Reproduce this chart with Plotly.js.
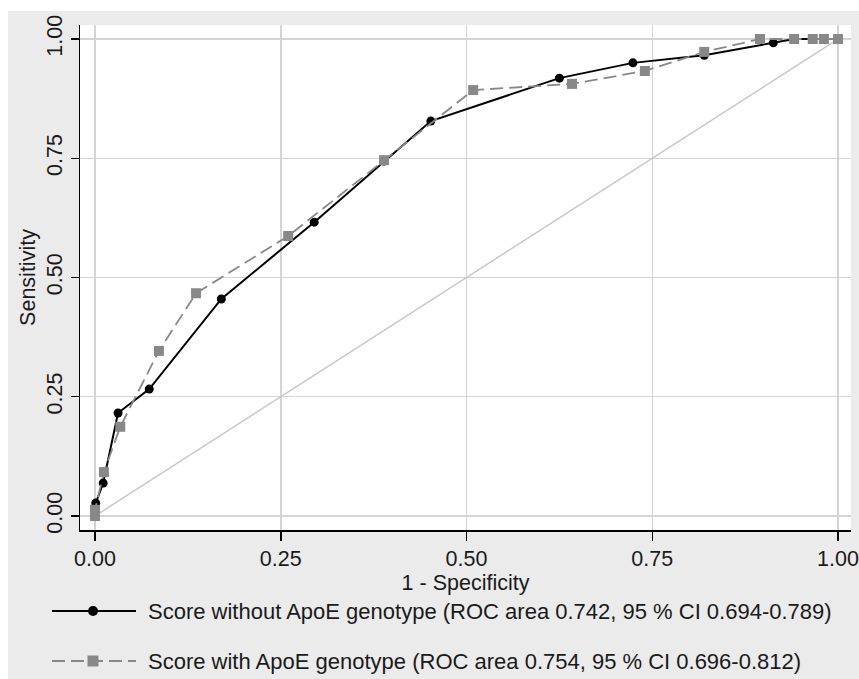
<!DOCTYPE html>
<html>
<head>
<meta charset="utf-8">
<script src="https://cdn.plot.ly/plotly-3.0.1.min.js"></script>
<style>html,body{margin:0;padding:0;background:#fff;}#chart{width:859px;height:679px;}</style>
</head>
<body>
<div id="chart"></div>
<script>
// ---- data ----
var fprWithout = [0, 0.001, 0.011, 0.031, 0.073, 0.170, 0.295, 0.389, 0.452, 0.625, 0.724, 0.820, 0.913, 0.941, 1];
var sensWithout = [0, 0.027, 0.069, 0.216, 0.266, 0.455, 0.616, 0.744, 0.828, 0.918, 0.950, 0.966, 0.992, 1, 1];
var fprWith = [0, 0, 0.012, 0.034, 0.086, 0.136, 0.260, 0.389, 0.509, 0.642, 0.740, 0.820, 0.895, 0.941, 0.966, 0.981, 1];
var sensWith = [0, 0.013, 0.092, 0.187, 0.346, 0.467, 0.587, 0.746, 0.893, 0.906, 0.933, 0.973, 1, 1, 1, 1, 1];
var refLine = [0, 1];
var tickVals = [0, 0.25, 0.5, 0.75, 1];
var tickText = ["0.00", "0.25", "0.50", "0.75", "1.00"];
var nameWithout = "Score without ApoE genotype (ROC area 0.742, 95 % CI 0.694-0.789)";
var nameWith = "Score with ApoE genotype (ROC area 0.754, 95 % CI 0.696-0.812)";

// ---- layout geometry (pixels) ----
var W = 859, H = 679;
var mL = 80, mR = 8, mT = 25, mB = 149;
var pw = W - mL - mR, ph = H - mT - mB;
function px(x) { return (x - mL) / pw; }
function py(y) { return (H - mB - y) / ph; }

var FONT = "Liberation Sans, Arial, Helvetica, sans-serif";
var FS = 21.5;
var LFS = 22;
var black = "#000000", gray = "#888888";

var traces = [
  {x: refLine, y: refLine, mode: "lines", line: {color: "#c8c8c8", width: 1.5}, hoverinfo: "skip", showlegend: false},
  {x: fprWithout, y: sensWithout, mode: "lines+markers", name: nameWithout,
   line: {color: black, width: 2}, marker: {symbol: "circle", size: 9, color: black}, showlegend: false},
  {x: fprWith, y: sensWith, mode: "lines+markers", name: nameWith,
   line: {color: gray, width: 1.8, dash: "13px,6px"}, marker: {symbol: "square", size: 10, color: gray}, showlegend: false}
];

var axisCommon = {
  tickmode: "array", tickvals: tickVals, ticktext: tickText,
  showgrid: true, gridcolor: "#d4d4d4", gridwidth: 1.5,
  zeroline: false, showline: true, linecolor: black, linewidth: 1.5,
  ticks: "outside", tickcolor: black, tickwidth: 1.5,
  tickfont: {family: FONT, size: FS, color: "#1a1a1a"}
};

var xaxis = Object.assign({}, axisCommon, {
  range: [-0.0202, 1.0175], ticklen: 9,
  title: {text: "1 - Specificity", font: {family: FONT, size: FS, color: "#1a1a1a"}, standoff: 0}
});
var yaxis = Object.assign({}, axisCommon, {
  range: [-0.0294, 1.0294], ticklen: 8, tickangle: -90,
  title: {text: "Sensitivity", font: {family: FONT, size: FS, color: "#1a1a1a"}, standoff: 1}
});

var rowY1 = 611, rowY2 = 661, lx0 = 52, lx1 = 136, lm = 93, tx = 146;

var shapes = [
  {type: "rect", xref: "paper", yref: "paper", layer: "below", x0: px(0), x1: px(W), y0: py(11), y1: py(0), fillcolor: "#ffffff", line: {width: 0}},
  {type: "rect", xref: "paper", yref: "paper", layer: "below", x0: px(0), x1: px(8), y0: py(H), y1: py(0), fillcolor: "#ffffff", line: {width: 0}},
  {type: "line", xref: "paper", yref: "paper", x0: px(lx0), x1: px(lx1), y0: py(rowY1), y1: py(rowY1), line: {color: black, width: 2}},
  {type: "circle", xref: "paper", yref: "paper", xsizemode: "pixel", ysizemode: "pixel", xanchor: px(lm), yanchor: py(rowY1),
   x0: -5, x1: 5, y0: -5, y1: 5, fillcolor: black, line: {width: 0}},
  {type: "line", xref: "paper", yref: "paper", x0: px(lx0), x1: px(lx1), y0: py(rowY2), y1: py(rowY2), line: {color: gray, width: 1.8, dash: "13px,6px"}},
  {type: "rect", xref: "paper", yref: "paper", xsizemode: "pixel", ysizemode: "pixel", xanchor: px(lm), yanchor: py(rowY2),
   x0: -5.5, x1: 5.5, y0: -5.5, y1: 5.5, fillcolor: gray, line: {width: 0}}
];

var annotations = [
  {xref: "paper", yref: "paper", x: px(tx), y: py(rowY1), xanchor: "left", yanchor: "middle", showarrow: false,
   text: nameWithout, font: {family: FONT, size: LFS, color: "#1a1a1a"}},
  {xref: "paper", yref: "paper", x: px(tx), y: py(rowY2), xanchor: "left", yanchor: "middle", showarrow: false,
   text: nameWith, font: {family: FONT, size: LFS, color: "#1a1a1a"}}
];

var layout = {
  width: W, height: H,
  margin: {l: mL, r: mR, t: mT, b: mB, pad: 0},
  paper_bgcolor: "#ebebeb", plot_bgcolor: "#ffffff",
  xaxis: xaxis, yaxis: yaxis,
  shapes: shapes, annotations: annotations,
  showlegend: false,
  font: {family: FONT, size: FS, color: "#1a1a1a"}
};

Plotly.newPlot("chart", traces, layout, {displayModeBar: false, staticPlot: true});
</script>
</body>
</html>
